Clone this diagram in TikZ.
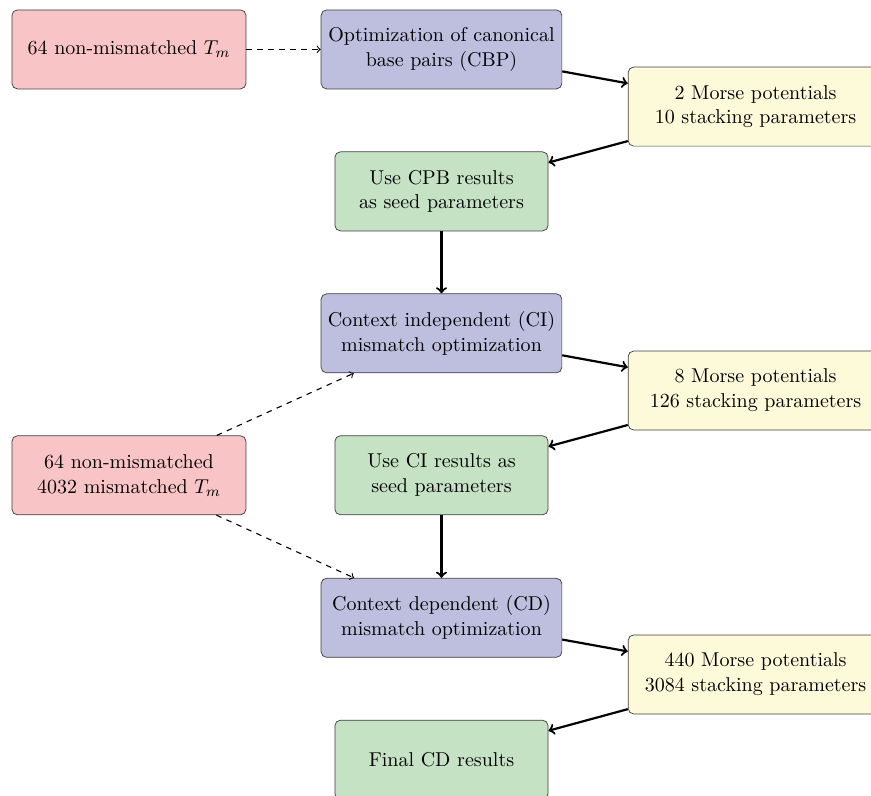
\documentclass[11pt,tikz,border=0pt]{standalone}
\usepackage{amsmath,amssymb}
\usepackage{tikz}
\usetikzlibrary{calc}
\usetikzlibrary{shapes}

\definecolor{tmred}{RGB}{248,196,197}
\definecolor{optblue}{RGB}{190,190,223}
\definecolor{parmyellow}{RGB}{252,250,216}
\definecolor{seedgreen}{RGB}{197,226,196}

\begin{document}
\begin{tikzpicture}[
    box/.style={draw=black!75, rounded corners=3pt, minimum height=1.52cm, align=center},
    tmbox/.style={box, fill=tmred, minimum width=4.5cm},
    optbox/.style={box, fill=optblue, minimum width=4.63cm},
    parmbox/.style={box, fill=parmyellow, minimum width=4.9cm},
    seedbox/.style={box, fill=seedgreen, minimum width=4.1cm},
    flow/.style={->, very thick},
    feed/.style={->, semithick, dashed}]
\useasboundingbox (0, 0) rectangle (16.75, -15.29);
\node[tmbox] (tm1) at (2.48, -0.95) {64 non-mismatched $T_m$};
\node[tmbox] (tm2) at (2.48, -9.14) {64 non-mismatched\\4032 mismatched $T_m$};
\node[optbox] (cbp) at (8.49, -0.95) {Optimization of canonical\\base pairs (CBP)};
\node[parmbox] (parm1) at (14.53, -2.05) {2 Morse potentials\\10 stacking parameters};
\node[seedbox] (seed1) at (8.49, -3.68) {Use CPB results\\as seed parameters};
\node[optbox] (ci) at (8.49, -6.41) {Context independent (CI)\\mismatch optimization};
\node[parmbox] (parm2) at (14.53, -7.51) {8 Morse potentials\\126 stacking parameters};
\node[seedbox] (seed2) at (8.49, -9.14) {Use CI results as\\seed parameters};
\node[optbox] (cd) at (8.49, -11.88) {Context dependent (CD)\\mismatch optimization};
\node[parmbox] (parm3) at (14.53, -12.97) {440 Morse potentials\\3084 stacking parameters};
\node[seedbox] (final) at (8.49, -14.61) {Final CD results};
% dashed: data fed in
\draw[feed] (tm1) -- (cbp);
\draw[feed] (tm2) -- (ci);
\draw[feed] (tm2) -- (cd);
% solid: optimization chain
\draw[flow] (cbp) -- (parm1);
\draw[flow] (parm1) -- (seed1);
\draw[flow] (seed1) -- (ci);
\draw[flow] (ci) -- (parm2);
\draw[flow] (parm2) -- (seed2);
\draw[flow] (seed2) -- (cd);
\draw[flow] (cd) -- (parm3);
\draw[flow] (parm3) -- (final);
\end{tikzpicture}
\end{document}
